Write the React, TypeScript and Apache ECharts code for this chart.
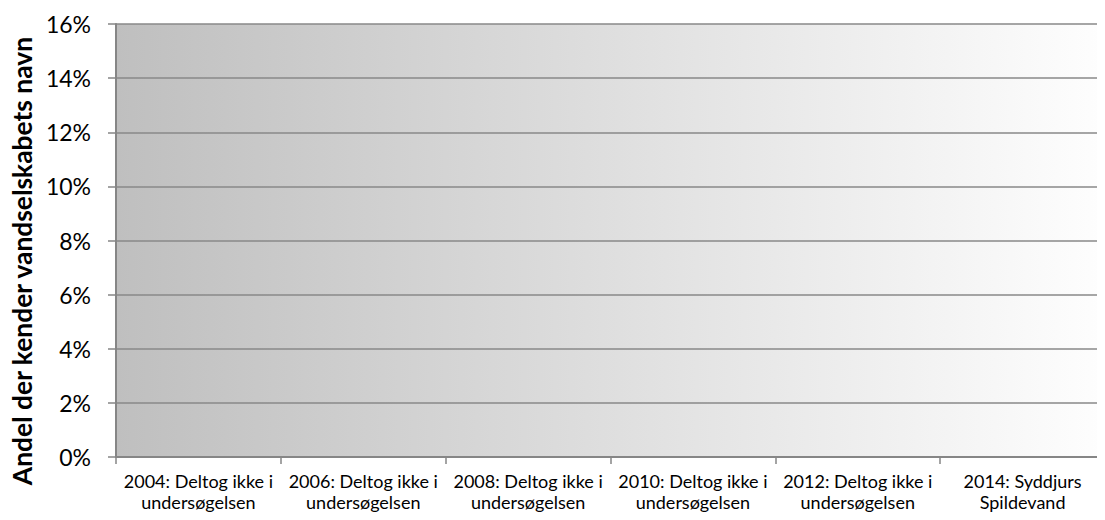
import React, { useEffect, useRef } from "react";
import * as echarts from "echarts";

const categories = [
  "2004: Deltog ikke i\nundersøgelsen",
  "2006: Deltog ikke i\nundersøgelsen",
  "2008: Deltog ikke i\nundersøgelsen",
  "2010: Deltog ikke i\nundersøgelsen",
  "2012: Deltog ikke i\nundersøgelsen",
  "2014: Syddjurs\nSpildevand",
];
const values: (number | null)[] = [null, null, null, null, null, null];
const yTicks = { min: 0, max: 0.16, interval: 0.02 };
const yTitle = "Andel der kender vandselskabets navn";

const FONT = "Lato";

export default function App() {
  const ref = useRef<HTMLDivElement>(null);
  useEffect(() => {
    if (!ref.current) return;
    const chart = echarts.init(ref.current, null, { renderer: "svg" });
    chart.setOption({
      animation: false,
      textStyle: { fontFamily: FONT },
      grid: {
        left: 116,
        right: 0,
        top: 24,
        bottom: 63,
        show: true,
        borderWidth: 0,
        backgroundColor: {
          type: "linear",
          x: 0,
          y: 0,
          x2: 1,
          y2: 0,
          colorStops: [
            { offset: 0, color: "#bfbfbf" },
            { offset: 1, color: "#fefefe" },
          ],
        },
      },
      xAxis: {
        type: "category",
        data: categories,
        boundaryGap: true,
        axisLine: { show: true, lineStyle: { color: "#868686", width: 2 } },
        axisTick: { show: true, length: 7, lineStyle: { color: "#868686", width: 1.5 } },
        axisLabel: {
          color: "#000",
          fontSize: 18,
          fontFamily: FONT,
          lineHeight: 21.6,
          margin: 13,
          interval: 0,
          align: "center",
        },
        splitLine: { show: false },
      },
      yAxis: {
        type: "value",
        min: yTicks.min,
        max: yTicks.max,
        interval: yTicks.interval,
        axisLine: { show: true, lineStyle: { color: "#868686", width: 2 } },
        axisTick: { show: true, length: 8, lineStyle: { color: "#868686", width: 1.5 } },
        axisLabel: {
          color: "#000",
          fontSize: 23,
          fontFamily: FONT,
          margin: 25,
          formatter: (v: number) => `${Math.round(v * 100)}%`,
        },
        splitLine: { show: true, lineStyle: { color: "#888888", width: 1.5 } },
      },
      graphic: [
        {
          type: "text",
          x: 22,
          y: 261,
          rotation: Math.PI / 2,
          style: {
            text: yTitle,
            fill: "#000",
            font: `bold 26.4px ${FONT}`,
            align: "center",
            verticalAlign: "middle",
          },
        },
      ],
      series: [
        {
          type: "bar",
          data: values,
          itemStyle: { color: "#4f81bd" },
        },
      ],
    });
    return () => chart.dispose();
  }, []);
  return <div ref={ref} style={{ width: 1105, height: 520, margin: -8 }} />;
}
